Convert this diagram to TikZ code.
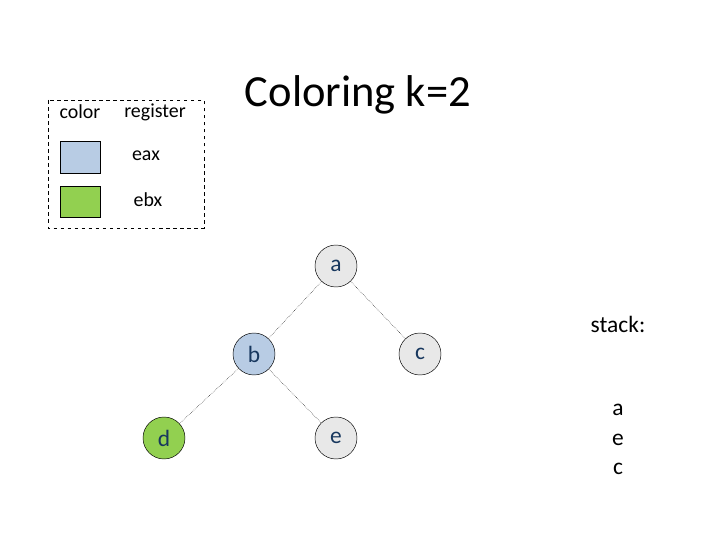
\documentclass[tikz,border=0pt]{standalone}
\usepackage{fontspec}
\setmainfont{Carlito}
\usepackage{tikz}
\usetikzlibrary{positioning}
\definecolor{eaxblue}{HTML}{B8CCE4}
\definecolor{ebxgreen}{HTML}{92D050}
\definecolor{nodegray}{HTML}{E8E8E8}
\definecolor{labelblue}{HTML}{17375E}
\tikzset{
  vertex/.style={circle, draw, thin, minimum size=1.26cm, inner sep=0pt,
    font=\fontsize{20}{20}\selectfont, text=labelblue},
  edge/.style={densely dotted, thin},
  txt/.style={font=\fontsize{17}{17}\selectfont}
}
\begin{document}
\begin{tikzpicture}[x=0.03cm, y=-0.03cm]
    \useasboundingbox (0,0) rectangle (720,540);
    % legend
    \draw[dashed, thin] (48,100) rectangle (204,228);
    \node[txt] (lcolor) at (80,112) {color};
    \node[txt] (lreg) at (155,112) {register};
    \draw[fill=eaxblue] (60,141) rectangle (100,173);
    \node[txt] (leax) at (146,156) {eax};
    \draw[fill=ebxgreen] (60,186) rectangle (100,217);
    \node[txt] (lebx) at (148,200) {ebx};
    \node[font=\fontsize{38}{38}\selectfont] (title) at (358,95) {Coloring k=2};
    % graph
    \node[vertex, fill=nodegray] (a) at (336,266) {a};
    \node[vertex, fill=eaxblue] (b) at (254,354) {b};
    \node[vertex, fill=nodegray] (c) at (420,354) {c};
    \node[vertex, fill=ebxgreen] (d) at (164,438) {d};
    \node[vertex, fill=nodegray] (e) at (336,438) {e};
    \draw[edge] (a) -- (b);
    \draw[edge] (a) -- (c);
    \draw[edge] (b) -- (d);
    \draw[edge] (b) -- (e);
    % stack
    \node[font=\fontsize{20}{20}\selectfont] (stack) at (618,324) {stack:};
    \node[font=\fontsize{20}{20}\selectfont] (s1) at (618,410) {a};
    \node[font=\fontsize{20}{20}\selectfont] (s2) at (618,440) {e};
    \node[font=\fontsize{20}{20}\selectfont] (s3) at (618,469) {c};
\end{tikzpicture}
\end{document}
